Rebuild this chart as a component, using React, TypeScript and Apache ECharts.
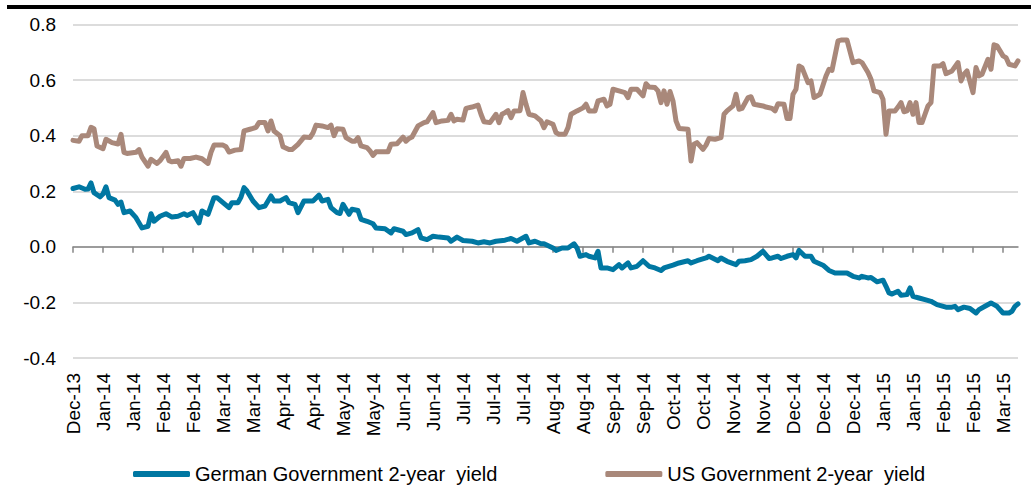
import React, { useEffect, useRef } from "react";
import * as echarts from "echarts";

const tickLabels: string[] = [
  "Dec-13", "Jan-14", "Jan-14", "Feb-14", "Feb-14", "Mar-14", "Mar-14", "Apr-14",
  "Apr-14", "May-14", "May-14", "Jun-14", "Jun-14", "Jul-14", "Jul-14", "Jul-14",
  "Aug-14", "Aug-14", "Sep-14", "Sep-14", "Oct-14", "Oct-14", "Nov-14", "Nov-14",
  "Dec-14", "Dec-14", "Dec-14", "Jan-15", "Jan-15", "Feb-15", "Feb-15", "Mar-15",
];
const daysPerTick = 10;
const lastDay = 315;

const seriesNames = ["German Government 2-year  yield", "US Government 2-year  yield"];

// [trading day, yield %]
const germanYield: [number, number][] = [
  [0,0.21],[2,0.216],[4,0.207],[5,0.208],[6,0.23],[7,0.195],[9,0.18],[10,0.19],[11,0.216],[12,0.177],
  [14,0.168],[15,0.153],[16,0.161],[17,0.123],[19,0.129],[21,0.105],[23,0.068],[25,0.074],[26,0.119],[27,0.092],
  [29,0.11],[31,0.119],[33,0.107],[35,0.11],[37,0.119],[38,0.113],[40,0.123],[42,0.086],[43,0.129],[45,0.117],
  [47,0.177],[48,0.177],[50,0.159],[52,0.141],[53,0.159],[55,0.159],[56,0.179],[57,0.213],[58,0.201],[60,0.165],
  [62,0.141],[64,0.147],[66,0.183],[67,0.165],[69,0.165],[71,0.177],[72,0.159],[74,0.153],[75,0.123],[77,0.165],
  [80,0.165],[82,0.186],[83,0.165],[85,0.171],[86,0.141],[88,0.123],[89,0.12],[90,0.153],[92,0.117],[93,0.135],
  [95,0.131],[96,0.099],[98,0.092],[100,0.083],[101,0.068],[104,0.065],[106,0.05],[107,0.065],[110,0.056],[111,0.044],
  [113,0.05],[115,0.062],[116,0.032],[118,0.026],[120,0.038],[122,0.035],[125,0.032],[126,0.02],[128,0.035],[130,0.023],
  [133,0.02],[135,0.014],[137,0.018],[139,0.014],[141,0.02],[144,0.024],[146,0.03],[148,0.02],[151,0.038],[152,0.014],
  [154,0.02],[156,0.011],[157,0.011],[160,-0.004],[161,-0.013],[163,-0.004],[165,-0.004],[167,0.011],[168,-0.004],[169,-0.034],
  [171,-0.028],[172,-0.034],[174,-0.04],[175,-0.016],[176,-0.076],[178,-0.076],[180,-0.082],[182,-0.064],[183,-0.076],[185,-0.058],
  [186,-0.076],[188,-0.07],[190,-0.05],[192,-0.07],[194,-0.076],[196,-0.085],[197,-0.076],[200,-0.066],[202,-0.058],[205,-0.05],
  [206,-0.058],[208,-0.05],[211,-0.04],[212,-0.034],[215,-0.05],[216,-0.04],[218,-0.052],[221,-0.064],[222,-0.052],[224,-0.05],
  [226,-0.046],[228,-0.034],[230,-0.016],[232,-0.042],[233,-0.04],[235,-0.034],[236,-0.042],[238,-0.034],[240,-0.028],[241,-0.04],
  [242,-0.013],[244,-0.034],[246,-0.034],[247,-0.052],[250,-0.066],[252,-0.085],[254,-0.094],[258,-0.094],[260,-0.106],[262,-0.112],
  [263,-0.106],[265,-0.112],[266,-0.11],[268,-0.126],[270,-0.12],[271,-0.142],[272,-0.166],[273,-0.17],[275,-0.16],[276,-0.174],
  [278,-0.172],[279,-0.148],[280,-0.178],[282,-0.184],[284,-0.19],[286,-0.196],[288,-0.208],[291,-0.217],[293,-0.217],[294,-0.214],
  [295,-0.226],[297,-0.217],[299,-0.222],[301,-0.238],[302,-0.226],[304,-0.214],[306,-0.202],[307,-0.208],[308,-0.214],[310,-0.238],
  [312,-0.238],[313,-0.232],[314,-0.214],[315,-0.205],
];

const usYield: [number, number][] = [
  [0,0.383],[2,0.38],[3,0.40],[5,0.40],[6,0.43],[7,0.425],[8,0.363],[10,0.353],[11,0.387],[13,0.375],
  [15,0.37],[16,0.405],[17,0.34],[18,0.336],[21,0.34],[22,0.35],[23,0.323],[25,0.29],[26,0.315],[28,0.30],
  [29,0.31],[31,0.34],[32,0.31],[33,0.306],[35,0.31],[36,0.29],[37,0.318],[39,0.318],[41,0.323],[43,0.317],
  [45,0.30],[46,0.34],[47,0.366],[50,0.366],[51,0.36],[52,0.341],[54,0.348],[56,0.35],[57,0.417],[59,0.423],
  [60,0.426],[61,0.43],[62,0.447],[64,0.447],[65,0.417],[66,0.453],[67,0.417],[69,0.40],[70,0.36],[72,0.35],
  [73,0.35],[75,0.369],[77,0.395],[79,0.393],[80,0.41],[81,0.438],[83,0.435],[85,0.429],[86,0.438],[87,0.40],
  [88,0.425],[90,0.423],[91,0.393],[93,0.38],[94,0.38],[95,0.393],[96,0.363],[98,0.357],[99,0.345],[100,0.329],
  [101,0.342],[105,0.342],[106,0.369],[108,0.371],[110,0.395],[111,0.38],[112,0.39],[113,0.395],[115,0.435],[117,0.447],
  [118,0.45],[120,0.483],[121,0.447],[123,0.453],[125,0.455],[126,0.477],[127,0.453],[128,0.459],[130,0.456],[131,0.498],
  [133,0.503],[135,0.51],[136,0.477],[137,0.45],[139,0.447],[141,0.477],[142,0.447],[143,0.477],[144,0.483],[145,0.49],
  [146,0.465],[147,0.489],[149,0.49],[150,0.555],[151,0.513],[152,0.477],[154,0.471],[156,0.453],[157,0.429],[158,0.45],
  [160,0.441],[161,0.411],[162,0.405],[164,0.405],[165,0.429],[166,0.477],[168,0.489],[170,0.50],[171,0.513],[172,0.489],
  [174,0.489],[175,0.525],[177,0.531],[178,0.507],[179,0.513],[180,0.567],[182,0.561],[184,0.555],[185,0.537],[186,0.567],
  [188,0.567],[190,0.543],[191,0.587],[192,0.575],[194,0.573],[195,0.561],[196,0.519],[197,0.561],[198,0.513],[199,0.559],
  [200,0.525],[201,0.453],[202,0.426],[205,0.423],[206,0.309],[207,0.369],[208,0.375],[210,0.351],[211,0.366],[212,0.39],
  [214,0.387],[216,0.393],[217,0.477],[218,0.489],[220,0.507],[221,0.549],[222,0.495],[223,0.498],[225,0.537],[226,0.54],
  [227,0.513],[230,0.507],[231,0.503],[233,0.498],[234,0.489],[235,0.515],[237,0.513],[238,0.462],[239,0.462],[240,0.549],
  [241,0.567],[242,0.651],[243,0.645],[245,0.591],[246,0.597],[247,0.537],[249,0.549],[251,0.615],[252,0.639],[253,0.635],
  [255,0.741],[256,0.744],[258,0.744],[260,0.663],[262,0.669],[263,0.663],[265,0.627],[266,0.603],[267,0.561],[269,0.555],
  [270,0.531],[271,0.405],[272,0.489],[274,0.489],[275,0.503],[276,0.519],[277,0.486],[278,0.489],[279,0.519],[280,0.477],
  [281,0.519],[282,0.447],[283,0.447],[284,0.477],[285,0.507],[286,0.519],[287,0.651],[289,0.651],[290,0.659],[291,0.623],
  [293,0.633],[295,0.663],[296,0.597],[297,0.621],[298,0.633],[300,0.555],[301,0.645],[302,0.615],[303,0.621],[305,0.675],
  [306,0.639],[307,0.727],[308,0.723],[310,0.687],[311,0.681],[312,0.657],[314,0.651],[315,0.669],
];

const yMin = -0.4;
const yMax = 0.8;
const yStep = 0.2;

const FONT = "'Liberation Sans', Arial, sans-serif";
const BLUE = "#0077a2";
const BROWN = "#a9887a";

export default function App() {
  const ref = useRef<HTMLDivElement>(null);

  useEffect(() => {
    if (!ref.current) return;
    const chart = echarts.init(ref.current, undefined, { renderer: "svg" });
    const tickValues = tickLabels.map((_, i) => i * daysPerTick);
    const labelFor = (v: number) => {
      const i = Math.round(v / daysPerTick);
      return Math.abs(v - i * daysPerTick) < 1e-6 && tickLabels[i] ? tickLabels[i] : "";
    };

    chart.setOption({
      animation: false,
      backgroundColor: "#ffffff",
      textStyle: { fontFamily: FONT },
      graphic: [
        {
          type: "rect",
          shape: { x: 7, y: 5, width: 1024, height: 4 },
          style: { fill: "#000000" },
          silent: true,
        },
      ],
      grid: { left: 73, right: 13, top: 24.5, bottom: 128, containLabel: false },
      legend: {
        data: seriesNames,
        left: 128,
        top: 459,
        itemWidth: 57,
        itemHeight: 6,
        itemGap: 108,
        icon: "roundRect",
        textStyle: { fontFamily: FONT, fontSize: 20, color: "#000000" },
      },
      xAxis: [
        {
          type: "value",
          min: 0,
          max: lastDay,
          interval: daysPerTick,
          axisLine: { show: true, onZero: true, lineStyle: { color: "#868686", width: 1.5 } },
          axisTick: {
            show: true,
            length: 6,
            customValues: tickValues,
            lineStyle: { color: "#868686", width: 1.5 },
          },
          axisLabel: { show: false },
          splitLine: { show: false },
        },
        {
          type: "value",
          min: 0,
          max: lastDay,
          interval: daysPerTick,
          position: "bottom",
          axisLine: { show: false, onZero: false },
          axisTick: { show: false },
          splitLine: { show: false },
          axisLabel: {
            show: true,
            rotate: 90,
            margin: 15,
            customValues: tickValues,
            formatter: labelFor,
            fontFamily: FONT,
            fontSize: 19,
            color: "#000000",
          },
        },
      ],
      yAxis: {
        type: "value",
        min: yMin,
        max: yMax,
        interval: yStep,
        axisLine: { show: false },
        axisTick: { show: false },
        axisLabel: {
          margin: 17,
          fontFamily: FONT,
          fontSize: 19,
          color: "#000000",
          formatter: (v: number) => v.toFixed(1),
        },
        splitLine: { show: true, lineStyle: { color: "#dcdcdc", width: 2 } },
      },
      series: [
        {
          name: seriesNames[0],
          type: "line",
          xAxisIndex: 0,
          data: germanYield,
          showSymbol: false,
          symbol: "none",
          color: BLUE,
          lineStyle: { color: BLUE, width: 5, cap: "round", join: "round" },
        },
        {
          name: seriesNames[1],
          type: "line",
          xAxisIndex: 0,
          data: usYield,
          showSymbol: false,
          symbol: "none",
          color: BROWN,
          lineStyle: { color: BROWN, width: 5, cap: "round", join: "round" },
        },
      ],
    });

    return () => chart.dispose();
  }, []);

  return (
    <div
      ref={ref}
      style={{ position: "fixed", left: 0, top: 0, width: 1031, height: 486 }}
    />
  );
}
